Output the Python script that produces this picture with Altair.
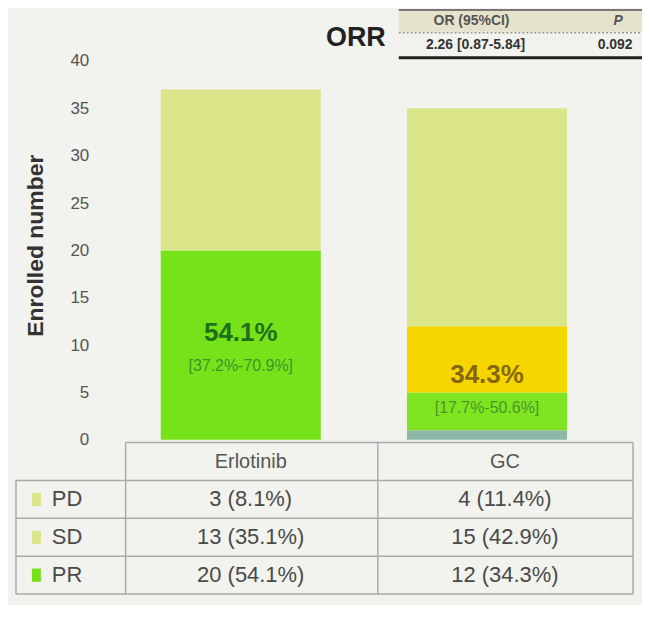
import altair as alt
import pandas as pd

# ---------------- data ----------------
groups = ["Erlotinib", "GC"]

# stacked segments as drawn, bottom to top
seg_group = ["Erlotinib", "Erlotinib", "GC", "GC", "GC", "GC"]
seg_part = ["PR", "SD/PD", "PR base", "PR low", "PR high", "SD/PD"]
seg_value = [20, 17, 1, 4, 7, 23]

part_domain = ["PR", "PR base", "PR low", "PR high", "SD/PD"]
part_colors = ["#76e21a", "#8db7a6", "#80e521", "#f6d600", "#dbe58a"]

orr_pct = ["54.1%", "34.3%"]
orr_ci = ["[37.2%-70.9%]", "[17.7%-50.6%]"]

row_labels = ["PD", "SD", "PR"]
erl_cells = ["3 (8.1%)", "13 (35.1%)", "20 (54.1%)"]
gc_cells = ["4 (11.4%)", "15 (42.9%)", "12 (34.3%)"]

or_header = ["OR (95%CI)", "P"]
or_values = ["2.26 [0.87-5.84]", "0.092"]

y_ticks = [0, 5, 10, 15, 20, 25, 30, 35, 40]

# ---------------- layout helpers ----------------
FONT = "Liberation Sans"
LIGHT = "#dbe58a"
GREEN = "#76e21a"
TOP = -0.3      # table top (in y units, below zero)
ROW_H = 4.0     # table row height (in y units)


def row_center(i):
    return TOP - ROW_H * (i + 0.5)


def row_edge(i):
    return TOP - ROW_H * i


xscale = alt.Scale(domain=groups, paddingInner=0.35, paddingOuter=0.175)
yscale = alt.Scale(domain=[-16.3, 45.5], nice=False, zero=False)

yaxis = alt.Axis(
    values=y_ticks, title="Enrolled number", domain=False, ticks=False, grid=False,
    labelFontSize=17, labelColor="#555555", labelPadding=29, labelFont=FONT,
    titleFontSize=23, titleFontWeight="bold", titleColor="#333333", titleFont=FONT,
    titleX=-70, titleY=237,
)

# ---------------- bars ----------------
bars_df = pd.DataFrame({"group": seg_group, "part": seg_part, "value": seg_value,
                        "k": list(range(len(seg_value)))})
bars = alt.Chart(bars_df).mark_bar().encode(
    x=alt.X("group:N", scale=xscale, axis=None),
    y=alt.Y("value:Q", stack="zero", scale=yscale, axis=yaxis),
    color=alt.Color("part:N", scale=alt.Scale(domain=part_domain, range=part_colors), legend=None),
    order=alt.Order("k:Q"),
)

# ---------------- percentage labels inside bars ----------------
lab_df = pd.DataFrame({"group": groups, "pct": orr_pct, "ci": orr_ci})
erl_lab = lab_df[lab_df.group == "Erlotinib"]
gc_lab = lab_df[lab_df.group == "GC"]

pct_erl = alt.Chart(erl_lab).mark_text(fontSize=26, fontWeight="bold", color="#1f6e1a", font=FONT).encode(
    x="group:N", y=alt.datum(11.3), text="pct:N")
ci_erl = alt.Chart(erl_lab).mark_text(fontSize=16, color="#3a962a", font=FONT).encode(
    x="group:N", y=alt.datum(7.8), text="ci:N")
pct_gc = alt.Chart(gc_lab).mark_text(fontSize=26, fontWeight="bold", color="#86670c", font=FONT).encode(
    x="group:N", y=alt.datum(6.8), text="pct:N")
ci_gc = alt.Chart(gc_lab).mark_text(fontSize=16, color="#47962a", font=FONT).encode(
    x="group:N", y=alt.datum(3.4), text="ci:N")

# ---------------- table below the bars ----------------
head_df = pd.DataFrame({"group": groups, "text": groups, "y": [row_center(0)] * len(groups)})
cells_df = pd.DataFrame({
    "group": ["Erlotinib"] * len(row_labels) + ["GC"] * len(row_labels),
    "text": erl_cells + gc_cells,
    "y": [row_center(i + 1) for i in range(len(row_labels))] * 2,
})
rows_df = pd.DataFrame({"row": row_labels,
                        "y": [row_center(i + 1) for i in range(len(row_labels))]})
rows_df["y0"] = rows_df["y"] - 0.7
rows_df["y1"] = rows_df["y"] + 0.7

head_erl = alt.Chart(head_df[head_df.group == "Erlotinib"]).mark_text(
    fontSize=20, color="#555555", font=FONT, dx=10).encode(x="group:N", y="y:Q", text="text:N")
head_gc = alt.Chart(head_df[head_df.group == "GC"]).mark_text(
    fontSize=20, color="#555555", font=FONT, dx=18).encode(x="group:N", y="y:Q", text="text:N")
cell_erl = alt.Chart(cells_df[cells_df.group == "Erlotinib"]).mark_text(
    fontSize=22, color="#4a4a4a", font=FONT, dx=10).encode(x="group:N", y="y:Q", text="text:N")
cell_gc = alt.Chart(cells_df[cells_df.group == "GC"]).mark_text(
    fontSize=22, color="#4a4a4a", font=FONT, dx=18).encode(x="group:N", y="y:Q", text="text:N")

row_text = alt.Chart(rows_df).mark_text(fontSize=22, color="#4a4a4a", font=FONT, align="left").encode(
    x=alt.value(-66), y="y:Q", text="row:N")
sq_light = alt.Chart(rows_df[rows_df.row != "PR"]).mark_rect(color=LIGHT).encode(
    x=alt.value(-86), x2=alt.value(-77), y="y0:Q", y2="y1:Q")
sq_green = alt.Chart(rows_df[rows_df.row == "PR"]).mark_rect(color=GREEN).encode(
    x=alt.value(-86), x2=alt.value(-77), y="y0:Q", y2="y1:Q")

LINE = "#aaaaaa"
hlines_df = pd.DataFrame({"y": [row_edge(i) for i in range(1, len(row_labels) + 2)]})
hlines = alt.Chart(hlines_df).mark_rule(color=LINE, strokeWidth=1.5).encode(
    y="y:Q", x=alt.value(-102), x2=alt.value(517))
top_line = alt.Chart(pd.DataFrame({"y": [row_edge(0)]})).mark_rule(color=LINE, strokeWidth=1.5).encode(
    y="y:Q", x=alt.value(8), x2=alt.value(517))
vspan = pd.DataFrame({"y0": [row_edge(0)], "y1": [row_edge(len(row_labels) + 1)]})
vlines = [
    alt.Chart(vspan).mark_rule(color=LINE, strokeWidth=1.5).encode(x=alt.value(px), y="y0:Q", y2="y1:Q")
    for px in (8, 261, 517)
]
vleft = alt.Chart(pd.DataFrame({"y0": [row_edge(1)], "y1": [row_edge(len(row_labels) + 1)]})).mark_rule(
    color=LINE, strokeWidth=1.5).encode(x=alt.value(-102), y="y0:Q", y2="y1:Q")

# ---------------- ORR odds-ratio box (top right) ----------------
one = pd.DataFrame({"a": [0]})
orr_title = alt.Chart(one).mark_text(text="ORR", fontSize=27, fontWeight="bold", color="#222222",
                                     font=FONT).encode(x=alt.value(239), y=alt.value(29))
or_bg = alt.Chart(one).mark_rect(color="#e5e3cc").encode(
    x=alt.value(282), x2=alt.value(527), y=alt.value(1), y2=alt.value(23))
or_topline = alt.Chart(one).mark_rule(color="#777777", strokeWidth=2).encode(
    x=alt.value(282), x2=alt.value(527), y=alt.value(1))
or_dots = alt.Chart(one).mark_rule(color="#9a9a8a", strokeWidth=1.5, strokeDash=[2, 2]).encode(
    x=alt.value(282), x2=alt.value(527), y=alt.value(24))
or_thick = alt.Chart(one).mark_rule(color="#222222", strokeWidth=3).encode(
    x=alt.value(282), x2=alt.value(527), y=alt.value(49))
or_h1 = alt.Chart(one).mark_text(text=or_header[0], fontSize=14, fontWeight="bold", color="#555555",
                                 font=FONT).encode(x=alt.value(355), y=alt.value(12))
or_h2 = alt.Chart(one).mark_text(text=or_header[1], fontSize=14, fontWeight="bold", fontStyle="italic",
                                 color="#555555", font=FONT).encode(x=alt.value(502), y=alt.value(12))
or_v1 = alt.Chart(one).mark_text(text=or_values[0], fontSize=14, fontWeight="bold", color="#333333",
                                 font=FONT).encode(x=alt.value(359), y=alt.value(36))
or_v2 = alt.Chart(one).mark_text(text=or_values[1], fontSize=14, fontWeight="bold", color="#333333",
                                 font=FONT).encode(x=alt.value(499), y=alt.value(36))

chart = alt.layer(
    bars, pct_erl, ci_erl, pct_gc, ci_gc,
    hlines, top_line, *vlines, vleft,
    head_erl, head_gc, cell_erl, cell_gc, row_text, sq_light, sq_green,
    or_bg, or_topline, or_dots, or_thick, orr_title, or_h1, or_h2, or_v1, or_v2,
).properties(
    width=494, height=587,
    autosize=alt.AutoSizeParams(type="none"),
    padding={"left": 110, "top": 0, "right": 32, "bottom": 10},
    background="#f2f2ee",
).configure_view(stroke=None)

chart.save("out.html", embed_options={"renderer": "svg", "actions": False})
